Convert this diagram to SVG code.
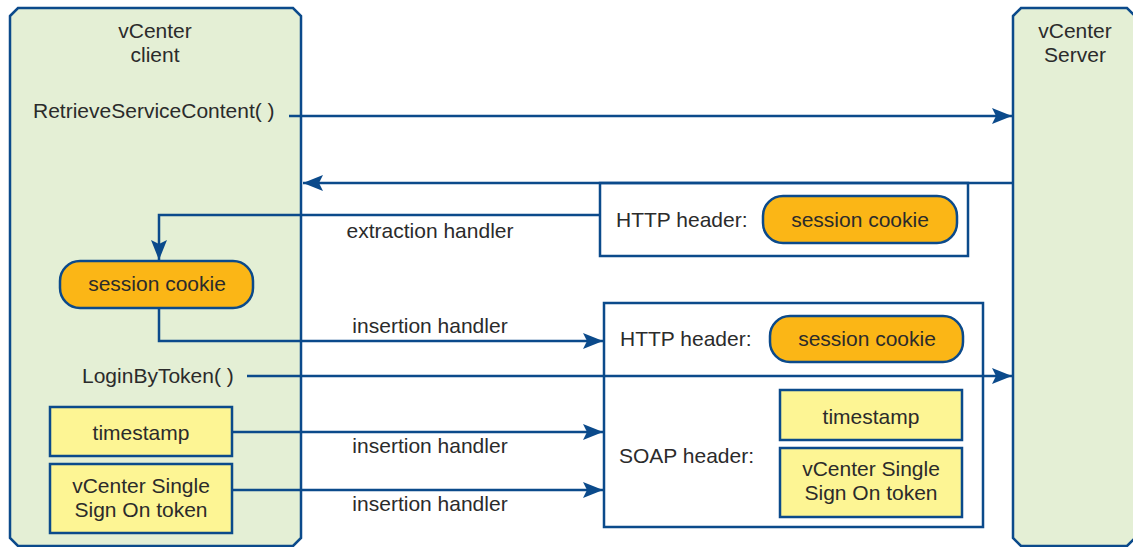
<svg xmlns="http://www.w3.org/2000/svg" width="1133" height="547" viewBox="0 0 1133 547">
<defs>
<style>
.panel{fill:#e4efd5;stroke:#0b4a8b;stroke-width:2.5}
.box{fill:#ffffff;stroke:#0b4a8b;stroke-width:2.5}
.pill{fill:#fbb616;stroke:#0b4a8b;stroke-width:2.5}
.yel{fill:#fdf594;stroke:#0b4a8b;stroke-width:2.5}
.ln{fill:none;stroke:#0b4a8b;stroke-width:2.5}
.arr{marker-end:url(#ah)}
text{font-family:"Liberation Sans",Arial,Helvetica,sans-serif;font-size:21px;fill:#2b2b2b}
.c{text-anchor:middle}
</style>
<marker id="ah" viewBox="0 0 20 16" refX="20" refY="8" markerWidth="20" markerHeight="16" markerUnits="userSpaceOnUse" orient="auto">
<path d="M0,0 L20,8 L0,16 L4,8 Z" fill="#0b4a8b"/>
</marker>
</defs>

<g id="client">
<path class="panel" d="M10,16 L18,8 L293,8 L301,16 L301,538 L293,546 L18,546 L10,538 Z"/>
<text class="c" x="155" y="38">vCenter</text>
<text class="c" x="155" y="62">client</text>
<text x="33" y="118">RetrieveServiceContent( )</text>
<text x="82" y="383">LoginByToken( )</text>
</g>

<g id="server">
<path class="panel" d="M1013,16 L1021,8 L1127,8 L1135,16 L1135,538 L1127,546 L1021,546 L1013,538 Z"/>
<text class="c" x="1075" y="38">vCenter</text>
<text class="c" x="1075" y="62">Server</text>
</g>

<g id="response-header">
<rect class="box" x="600" y="183" width="368" height="73"/>
<text x="616" y="227">HTTP header:</text>
<rect class="pill" x="763" y="196" width="194" height="47" rx="20" ry="20"/>
<text class="c" x="860" y="227">session cookie</text>
</g>

<g id="client-session-cookie">
<rect class="pill" x="60" y="261" width="193" height="47" rx="20" ry="20"/>
<text class="c" x="157" y="291">session cookie</text>
</g>

<g id="client-timestamp">
<rect class="yel" x="50" y="407" width="182" height="49"/>
<text class="c" x="141" y="440">timestamp</text>
</g>

<g id="client-sso-token">
<rect class="yel" x="50" y="464" width="182" height="69"/>
<text class="c" x="141" y="493">vCenter Single</text>
<text class="c" x="141" y="517">Sign On token</text>
</g>

<g id="request-headers">
<rect class="box" x="604" y="303" width="379" height="224"/>
<text x="620" y="346">HTTP header:</text>
<rect class="pill" x="770" y="316" width="193" height="46" rx="20" ry="20"/>
<text class="c" x="867" y="346">session cookie</text>
<text x="619" y="463">SOAP header:</text>
<rect class="yel" x="780" y="390" width="182" height="50"/>
<text class="c" x="871" y="424">timestamp</text>
<rect class="yel" x="780" y="448" width="182" height="69"/>
<text class="c" x="871" y="476">vCenter Single</text>
<text class="c" x="871" y="500">Sign On token</text>
</g>

<g id="connectors">
<line class="ln arr" x1="289" y1="116" x2="1012" y2="116"/>
<line class="ln arr" x1="1013" y1="183" x2="303" y2="183"/>
<polyline class="ln arr" points="600,215 159,215 159,260"/>
<polyline class="ln arr" points="159,308 159,341 603,341"/>
<line class="ln arr" x1="247" y1="376" x2="1012" y2="376"/>
<line class="ln arr" x1="232" y1="432" x2="603" y2="432"/>
<line class="ln arr" x1="232" y1="490" x2="603" y2="490"/>
<text class="c" x="430" y="238">extraction handler</text>
<text class="c" x="430" y="333">insertion handler</text>
<text class="c" x="430" y="453">insertion handler</text>
<text class="c" x="430" y="511">insertion handler</text>
</g>
</svg>
